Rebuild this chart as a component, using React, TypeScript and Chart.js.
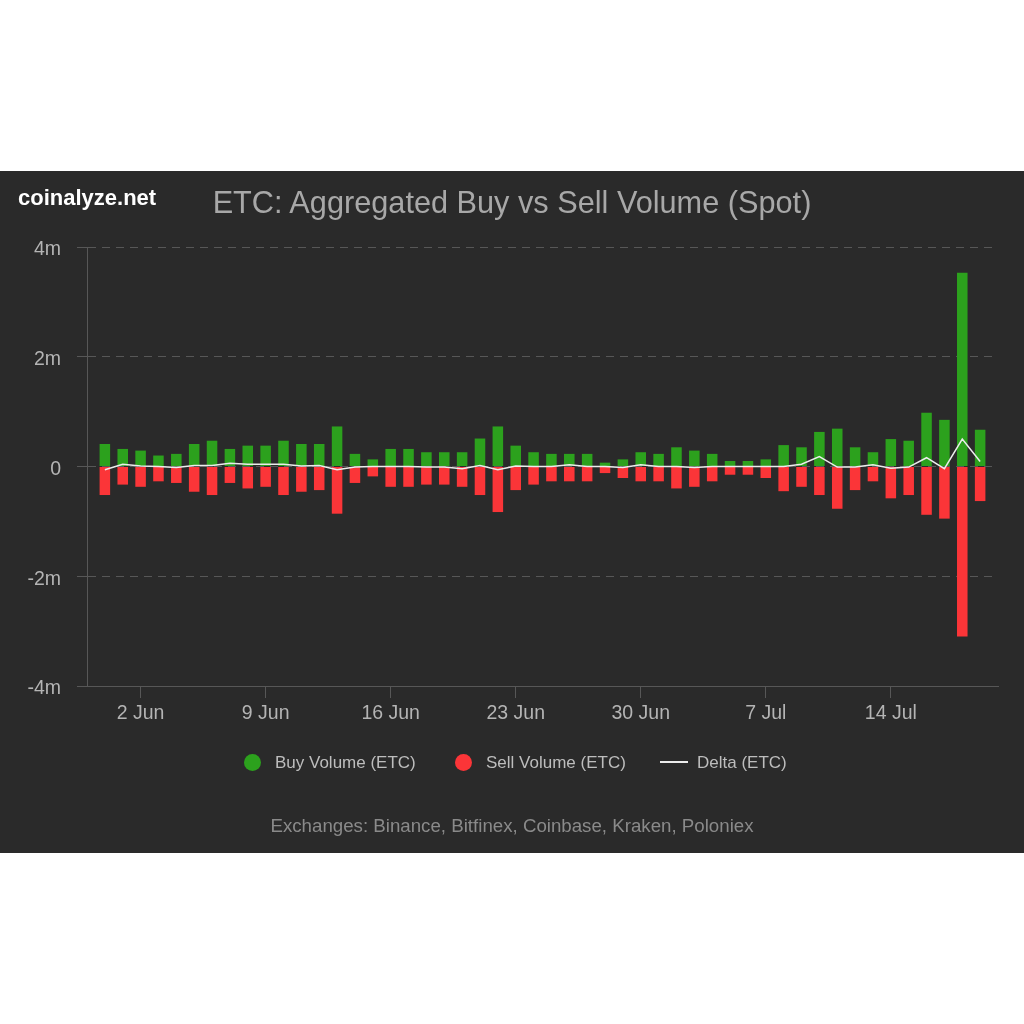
import React, { useEffect, useRef } from 'react';
import { Chart, registerables } from 'chart.js';

Chart.register(...registerables);

// Daily categories: one spare day on each side frames the bars (30 May .. 20 Jul)
const dayLabels: string[] = [
  '30 May', '31 May',
  '1 Jun', '2 Jun', '3 Jun', '4 Jun', '5 Jun', '6 Jun', '7 Jun', '8 Jun', '9 Jun', '10 Jun',
  '11 Jun', '12 Jun', '13 Jun', '14 Jun', '15 Jun', '16 Jun', '17 Jun', '18 Jun', '19 Jun', '20 Jun',
  '21 Jun', '22 Jun', '23 Jun', '24 Jun', '25 Jun', '26 Jun', '27 Jun', '28 Jun', '29 Jun', '30 Jun',
  '1 Jul', '2 Jul', '3 Jul', '4 Jul', '5 Jul', '6 Jul', '7 Jul', '8 Jul', '9 Jul', '10 Jul',
  '11 Jul', '12 Jul', '13 Jul', '14 Jul', '15 Jul', '16 Jul', '17 Jul', '18 Jul', '19 Jul', '20 Jul',
];

// Labelled ticks on the date axis
const axisTickLabels: string[] = ['2 Jun', '9 Jun', '16 Jun', '23 Jun', '30 Jun', '7 Jul', '14 Jul'];

// Value-axis ticks, in millions of ETC
const yTickValues: number[] = [-4, -2, 0, 2, 4];
const yTickLabels: string[] = ['-4m', '-2m', '0', '2m', '4m'];

// Daily volumes (millions of ETC), 31 May .. 19 Jul
const buyVolume: number[] = [
  0.41, 0.32, 0.29, 0.20, 0.23, 0.41, 0.47, 0.32, 0.38, 0.38,
  0.47, 0.41, 0.41, 0.73, 0.23, 0.13, 0.32, 0.32, 0.26, 0.26,
  0.26, 0.51, 0.73, 0.38, 0.26, 0.23, 0.23, 0.23, 0.07, 0.13,
  0.26, 0.23, 0.35, 0.29, 0.23, 0.10, 0.10, 0.13, 0.39, 0.35,
  0.63, 0.69, 0.35, 0.26, 0.50, 0.47, 0.98, 0.85, 3.53, 0.67,
];

const sellVolume: number[] = [
  -0.52, -0.33, -0.37, -0.27, -0.30, -0.46, -0.52, -0.30, -0.40, -0.37,
  -0.52, -0.46, -0.43, -0.86, -0.30, -0.18, -0.37, -0.37, -0.33, -0.33,
  -0.37, -0.52, -0.83, -0.43, -0.33, -0.27, -0.27, -0.27, -0.12, -0.21,
  -0.27, -0.27, -0.40, -0.37, -0.27, -0.15, -0.15, -0.21, -0.45, -0.37,
  -0.52, -0.77, -0.43, -0.27, -0.58, -0.52, -0.88, -0.95, -3.10, -0.63,
];

const deltaVolume: number[] = [
  -0.06, 0.04, 0.01, 0.00, -0.02, 0.02, 0.02, 0.06, 0.04, 0.04,
  0.04, 0.01, 0.02, -0.06, -0.01, 0.00, 0.00, 0.00, -0.01, -0.01,
  -0.04, 0.02, -0.06, 0.01, 0.00, 0.00, 0.03, 0.00, 0.00, -0.02,
  0.03, 0.00, 0.00, -0.02, 0.00, 0.00, 0.00, 0.00, 0.00, 0.04,
  0.18, -0.01, -0.01, 0.03, -0.03, -0.01, 0.16, -0.04, 0.50, 0.09,
];

const FONT = '"Liberation Sans", Arial, Helvetica, sans-serif';
const BG = '#2a2a2a';
const GREEN = '#2ca11d';
const RED = '#fb3538';
const AXIS = '#575757';
const TICK_TEXT = '#b4b4b4';

const withSpareDays = (arr: number[]) => [null, ...arr, null];

export default function App() {
  const canvasRef = useRef<HTMLCanvasElement>(null);

  useEffect(() => {
    const canvas = canvasRef.current;
    if (!canvas) return;

    const chart = new Chart(canvas, {
      type: 'bar',
      data: {
        labels: dayLabels,
        datasets: [
          {
            type: 'line',
            label: 'Delta (ETC)',
            data: withSpareDays(deltaVolume),
            borderColor: '#ececec',
            borderWidth: 1.5,
            pointRadius: 0,
            tension: 0,
            stack: 'delta',
            order: 0,
          },
          {
            type: 'bar',
            label: 'Buy Volume (ETC)',
            data: withSpareDays(buyVolume),
            backgroundColor: GREEN,
            stack: 'volume',
            order: 1,
          },
          {
            type: 'bar',
            label: 'Sell Volume (ETC)',
            data: withSpareDays(sellVolume),
            backgroundColor: RED,
            stack: 'volume',
            order: 1,
          },
        ] as any,
      },
      options: {
        responsive: false,
        animation: false,
        layout: { padding: { left: 0, right: 26, top: 76, bottom: 0 } },
        datasets: { bar: { barPercentage: 0.59, categoryPercentage: 1 } },
        plugins: {
          legend: { display: false },
          title: { display: false },
          tooltip: { enabled: false },
        },
        scales: {
          x: {
            type: 'category',
            offset: false,
            stacked: true,
            grid: {
              offset: false,
              drawOnChartArea: false,
              drawTicks: true,
              tickLength: 12,
              tickColor: AXIS,
              color: AXIS,
            },
            border: { display: true, color: AXIS, width: 1 },
            ticks: {
              autoSkip: false,
              maxRotation: 0,
              padding: 4,
              color: TICK_TEXT,
              font: { family: FONT, size: 19.5 },
            },
            afterBuildTicks: (scale: any) => {
              scale.ticks = scale.ticks.filter((t: any) =>
                axisTickLabels.includes(dayLabels[t.value])
              );
            },
            afterFit: (scale: any) => {
              scale.height = 167;
            },
          },
          y: {
            stacked: true,
            min: yTickValues[0],
            max: yTickValues[yTickValues.length - 1],
            grid: {
              color: AXIS,
              drawTicks: true,
              tickLength: 10,
              tickColor: AXIS,
              tickBorderDash: [],
            },
            border: { display: true, color: AXIS, width: 1, dash: [8, 6] },
            ticks: {
              stepSize: 2,
              padding: 16,
              labelOffset: 3,
              color: TICK_TEXT,
              font: { family: FONT, size: 19.5 },
              callback: (value: any) => {
                const i = yTickValues.indexOf(Number(value));
                return i >= 0 ? yTickLabels[i] : '';
              },
            },
            afterFit: (scale: any) => {
              scale.width = 87;
            },
          },
        },
      } as any,
    });

    return () => chart.destroy();
  }, []);

  const legendText: React.CSSProperties = {
    position: 'absolute',
    top: 583,
    fontSize: 17,
    lineHeight: '17px',
    color: '#bdbdbd',
    whiteSpace: 'nowrap',
  };
  const dot = (color: string, cx: number): React.CSSProperties => ({
    position: 'absolute',
    left: cx - 8.5,
    top: 591 - 8.5,
    width: 17,
    height: 17,
    borderRadius: '50%',
    background: color,
  });

  return (
    <div
      style={{
        position: 'fixed',
        left: 0,
        top: 0,
        width: 1024,
        height: 1024,
        background: '#ffffff',
        fontFamily: FONT,
      }}
    >
      <div
        style={{
          position: 'absolute',
          left: 0,
          top: 171,
          width: 1024,
          height: 682,
          background: BG,
          overflow: 'hidden',
        }}
      >
        <canvas
          ref={canvasRef}
          width={1024}
          height={682}
          style={{ position: 'absolute', left: 0, top: 0, width: 1024, height: 682 }}
        />
        <div
          style={{
            position: 'absolute',
            left: 18,
            top: 15.5,
            fontSize: 22,
            lineHeight: '22px',
            fontWeight: 'bold',
            color: '#ffffff',
            whiteSpace: 'nowrap',
          }}
        >
          coinalyze.net
        </div>
        <div
          style={{
            position: 'absolute',
            left: 0,
            top: 16.5,
            width: 1024,
            textAlign: 'center',
            fontSize: 30.7,
            lineHeight: '30.7px',
            color: '#a8a8a8',
            whiteSpace: 'nowrap',
          }}
        >
          ETC: Aggregated Buy vs Sell Volume (Spot)
        </div>

        <div style={dot(GREEN, 252)} />
        <div style={{ ...legendText, left: 275 }}>Buy Volume (ETC)</div>
        <div style={dot(RED, 463.5)} />
        <div style={{ ...legendText, left: 486 }}>Sell Volume (ETC)</div>
        <div
          style={{
            position: 'absolute',
            left: 660,
            top: 590,
            width: 28,
            height: 2,
            background: '#ececec',
          }}
        />
        <div style={{ ...legendText, left: 697 }}>Delta (ETC)</div>

        <div
          style={{
            position: 'absolute',
            left: 0,
            top: 646,
            width: 1024,
            textAlign: 'center',
            fontSize: 18.7,
            lineHeight: '18.7px',
            color: '#8a8a8a',
            whiteSpace: 'nowrap',
          }}
        >
          Exchanges: Binance, Bitfinex, Coinbase, Kraken, Poloniex
        </div>
      </div>
    </div>
  );
}
